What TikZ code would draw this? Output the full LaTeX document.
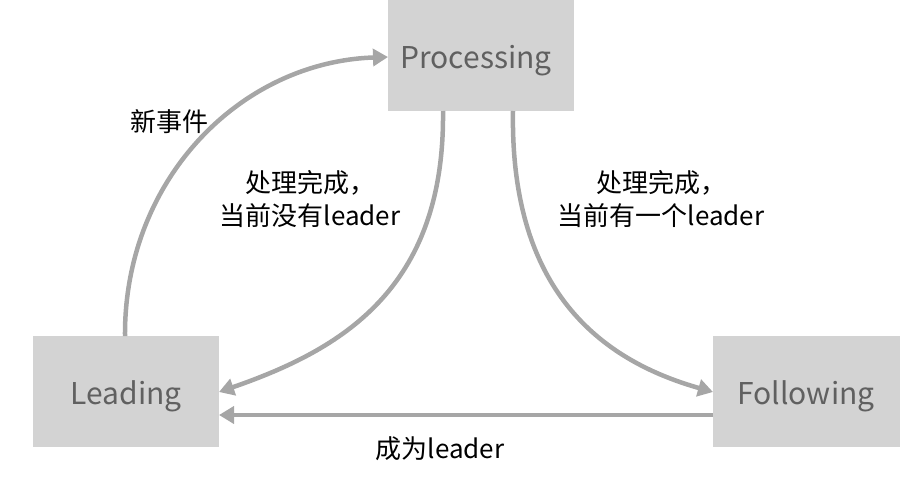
\documentclass[tikz,border=0pt]{standalone}
\usepackage{fontspec}
\setmainfont{Noto Sans CJK SC}
\usetikzlibrary{arrows.meta}
\definecolor{boxfill}{HTML}{D3D3D3}
\definecolor{boxtext}{HTML}{606060}
\definecolor{arrowgray}{HTML}{A6A6A6}
\tikzset{
  statebox/.style={fill=boxfill, draw=none, minimum width=186pt, minimum height=111pt, inner sep=0pt, text=boxtext, font=\fontsize{30}{34}\selectfont},
  boxlabel/.style={text=boxtext, font=\fontsize{30}{34}\selectfont, inner sep=0pt},
  conn/.style={draw=arrowgray, line width=4.5pt, -{Triangle[length=15pt,width=17pt]}},
  lbl/.style={text=black, font=\fontsize{26}{33}\selectfont, align=center, inner sep=0pt}
}
\begin{document}
\begin{tikzpicture}[x=1pt,y=-1pt]
\useasboundingbox (0,0) rectangle (900,482);
\node[statebox] (proc) at (481,55.5) {};
\node[statebox] (lead) at (126,391.5) {};
\node[statebox, minimum width=187pt] (foll) at (806.5,391.5) {};
\node[boxlabel, anchor=base] (proct) at (476,68) {Processing};
\node[boxlabel, anchor=base] (leadt) at (126,404) {Leading};
\node[boxlabel, anchor=base] (follt) at (806,404) {Following};
\coordinate (leadTop) at (125,336);
\coordinate (procL) at (388,57);
\coordinate (procB1) at (443,111);
\coordinate (procB2) at (513,111);
\coordinate (leadR1) at (219,392);
\coordinate (leadR2) at (219,415);
\coordinate (follL1) at (713,392);
\coordinate (follL2) at (713,415);
\draw[conn] (leadTop) .. controls (124,180) and (240,62) .. (procL);
\draw[conn] (procB1) .. controls (445,290) and (340,350) .. (leadR1);
\draw[conn] (procB2) .. controls (510,290) and (600,360) .. (follL1);
\draw[conn] (follL2) -- (leadR2);
\node[lbl] (l1) at (169,122) {新事件};
\node[lbl] (l2) at (310,199) {处理完成，\\当前没有leader};
\node[lbl] (l3) at (661,199) {处理完成，\\当前有一个leader};
\node[lbl] (l4) at (440,449) {成为leader};
\end{tikzpicture}
\end{document}
